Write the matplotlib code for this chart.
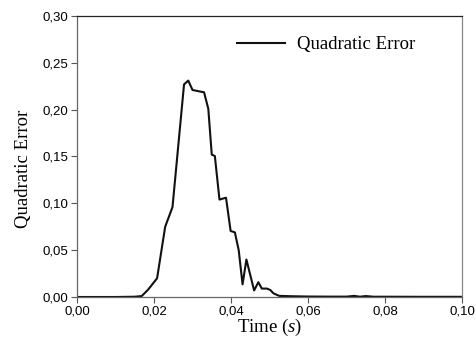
import numpy as np
import matplotlib
matplotlib.use("Agg")
import matplotlib.pyplot as plt
from matplotlib.ticker import FuncFormatter

plt.rcParams['mathtext.fontset'] = 'custom'
plt.rcParams['mathtext.rm'] = 'Liberation Serif'
plt.rcParams['mathtext.it'] = 'Liberation Serif:italic'

# dados (tempo em s, erro quadratico)
time = [0.000, 0.005, 0.010, 0.015, 0.0168, 0.0185, 0.0208, 0.0229, 0.0248,
        0.0278, 0.0289, 0.0300, 0.0330, 0.0341, 0.0350, 0.0358, 0.0370,
        0.0387, 0.0399, 0.0410, 0.0420, 0.0430, 0.0440, 0.0460, 0.0471,
        0.0480, 0.0493, 0.0502, 0.0510, 0.0525, 0.0560, 0.0600, 0.0650,
        0.0700, 0.0720, 0.0735, 0.0750, 0.0770, 0.0800, 0.0900, 0.1000]
error = [0.000, 0.000, 0.000, 0.0003, 0.001, 0.008, 0.020, 0.075, 0.096,
         0.227, 0.231, 0.221, 0.2185, 0.201, 0.152, 0.1505, 0.104,
         0.106, 0.0705, 0.069, 0.050, 0.0135, 0.040, 0.007, 0.0158,
         0.009, 0.009, 0.0075, 0.004, 0.0012, 0.0008, 0.0005, 0.0004,
         0.0004, 0.0012, 0.0003, 0.0010, 0.0003, 0.0003, 0.0002, 0.0002]

xticks = [0.00, 0.02, 0.04, 0.06, 0.08, 0.10]
yticks = [0.00, 0.05, 0.10, 0.15, 0.20, 0.25, 0.30]

fig = plt.figure(figsize=(4.76, 3.38), dpi=100)
ax = fig.add_axes([0.1618, 0.1213, 0.8088, 0.8314])

ax.plot(time, error, color='#111111', lw=1.5, label='Quadratic Error')

ax.set_xlim(0, 0.10)
ax.set_ylim(0, 0.30)
ax.set_xticks(xticks)
ax.set_yticks(yticks)

# virgula como separador decimal
ax.xaxis.set_major_formatter(FuncFormatter(lambda v, p: f"{v:.2f}".replace('.', ',')))
ax.yaxis.set_major_formatter(FuncFormatter(lambda v, p: f"{v:.2f}".replace('.', ',')))

ax.tick_params(direction='out', length=4, width=0.8, color='#555555',
               labelsize=9.5, pad=2, top=False, right=False)
for lab in ax.get_xticklabels() + ax.get_yticklabels():
    lab.set_family('Liberation Sans')

ax.spines['left'].set_color('#666666')
ax.spines['bottom'].set_color('#666666')
ax.spines['top'].set_color('#222222')
ax.spines['right'].set_color('#888888')
for s in ax.spines.values():
    s.set_linewidth(0.9)

ax.set_xlabel('Time ($\\it{s}$)', family='Liberation Serif', fontsize=13.5, labelpad=0)
ax.set_ylabel('Quadratic Error', family='Liberation Serif', fontsize=13.5)
ax.yaxis.set_label_coords(-0.117, 0.455)

leg = ax.legend(loc='center left', frameon=False, handlelength=2.56, handletextpad=0.62,
                borderpad=0, borderaxespad=0,
                prop={'family': 'Liberation Serif', 'size': 13.5},
                bbox_to_anchor=(0.4156, 0.897))

fig.savefig('out.png', dpi=100)
